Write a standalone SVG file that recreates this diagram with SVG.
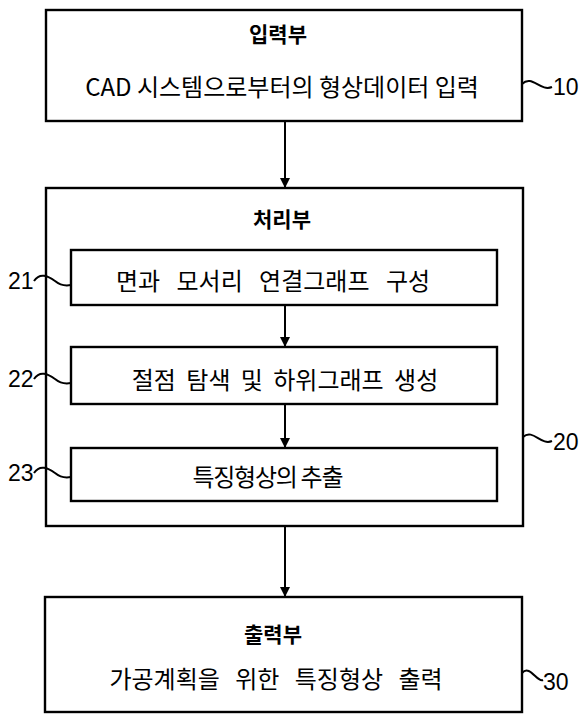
<svg xmlns="http://www.w3.org/2000/svg" width="582" height="714" viewBox="0 0 582 714">
<style>
.box{fill:none;stroke:#000;stroke-width:2.4}
.ln{fill:none;stroke:#000;stroke-width:2}
.t{font-family:"Noto Sans CJK KR","Noto Sans",sans-serif;font-size:24px;fill:#000;text-anchor:middle;dominant-baseline:central}
.h{font-family:"Noto Sans CJK KR","Noto Sans",sans-serif;font-size:21px;font-weight:bold;fill:#000;text-anchor:middle;dominant-baseline:central}
.n{font-family:"Liberation Sans",Arial,sans-serif;font-size:23px;fill:#000;dominant-baseline:central}
</style>
<defs>
<marker id="ah" markerWidth="10" markerHeight="14" refX="10" refY="7" orient="auto" markerUnits="userSpaceOnUse">
<path d="M0,2 L10,7 L0,12 Z" fill="#000"/>
</marker>
</defs>
<g id="n10">
<rect class="box" x="46" y="10" width="476" height="111"/>
<text class="h" x="278" y="33">입력부</text>
<text class="t" x="282" y="85">CAD 시스템으로부터의 형상데이터 입력</text>
<path class="ln" d="M522,84 C532,74 540,92 552,87"/>
<text class="n" x="553" y="87">10</text>
</g>
<g id="n20">
<rect class="box" x="46" y="188" width="477" height="338"/>
<text class="h" x="282" y="218">처리부</text>
<path class="ln" d="M523,437 C533,428 541,446 552,441"/>
<text class="n" x="553" y="442">20</text>
</g>
<g id="n21">
<rect class="box" x="71" y="250" width="426" height="55"/>
<text class="t" x="273" y="279" word-spacing="11">면과 모서리 연결그래프 구성</text>
<path class="ln" d="M34,281 C40,272 48,276 55,281 C61,286 66,286 71,285"/>
<text class="n" x="8" y="281">21</text>
</g>
<g id="n22">
<rect class="box" x="71" y="347" width="426" height="57"/>
<text class="t" x="285" y="378" word-spacing="5">절점 탐색 및 하위그래프 생성</text>
<path class="ln" d="M34,379 C40,370 48,374 55,379 C61,384 66,384 71,383"/>
<text class="n" x="8" y="379">22</text>
</g>
<g id="n23">
<rect class="box" x="71" y="448" width="426" height="53"/>
<text class="t" x="268" y="475" textLength="151" lengthAdjust="spacing">특징형상의 추출</text>
<path class="ln" d="M34,473 C40,464 48,468 55,473 C61,478 66,478 71,477"/>
<text class="n" x="8" y="473">23</text>
</g>
<g id="n30">
<rect class="box" x="45" y="597" width="477" height="115"/>
<text class="h" x="273" y="633">출력부</text>
<text class="t" x="276" y="677" word-spacing="10">가공계획을 위한 특징형상 출력</text>
<path class="ln" d="M522,673 C530,664 537,683 543,680"/>
<text class="n" x="543" y="682">30</text>
</g>
<g id="connectors">
<line class="ln" x1="285" y1="121" x2="285" y2="188" marker-end="url(#ah)"/>
<line class="ln" x1="285" y1="305" x2="285" y2="347" marker-end="url(#ah)"/>
<line class="ln" x1="285" y1="404" x2="285" y2="448" marker-end="url(#ah)"/>
<line class="ln" x1="285" y1="526" x2="285" y2="597" marker-end="url(#ah)"/>
</g>
</svg>
